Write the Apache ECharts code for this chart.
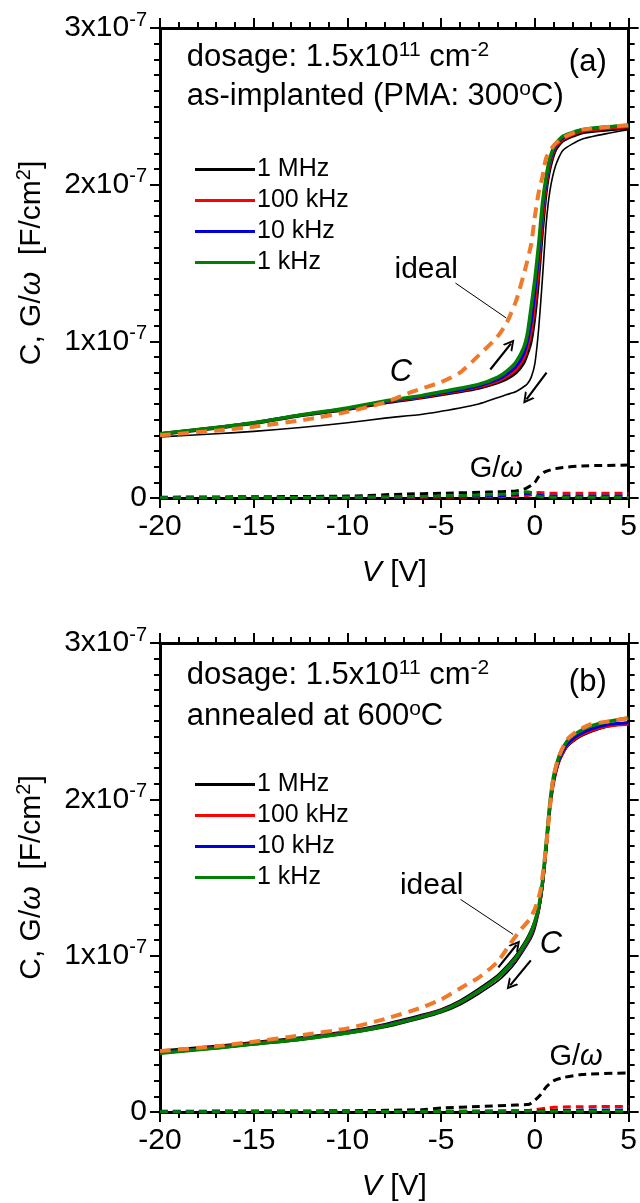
<!DOCTYPE html>
<html>
<head>
<meta charset="utf-8">
<script src="https://cdn.jsdelivr.net/npm/echarts@6.0.0/dist/echarts.min.js"></script>
<style>
  html, body { margin: 0; padding: 0; background: #fff; }
  #chart { width: 640px; height: 1203px; }
</style>
</head>
<body>
<div id="chart"></div>
<script>
// capacitance values in units of 1e-7 F/cm2, voltages in V

// ---- panel (a): as-implanted ----
const vA = [-20, -17, -15, -12.5, -10, -8, -6, -4, -3, -2, -1.5, -1, -0.6, -0.4, -0.2, 0, 0.2, 0.4, 0.6, 0.8, 1.1, 1.5, 2.5, 4, 5];
const cA_1M_rev = [0.39, 0.41, 0.425, 0.45, 0.48, 0.51, 0.535, 0.575, 0.60, 0.64, 0.66, 0.68, 0.71, 0.73, 0.77, 0.86, 1.08, 1.40, 1.75, 1.96, 2.12, 2.22, 2.29, 2.33, 2.35];
const cA_1M = [0.405, 0.445, 0.475, 0.525, 0.565, 0.607, 0.64, 0.678, 0.70, 0.735, 0.76, 0.80, 0.86, 0.92, 1.00, 1.16, 1.40, 1.70, 1.95, 2.10, 2.22, 2.28, 2.33, 2.35, 2.36];
const cA_100k = [0.41, 0.45, 0.48, 0.53, 0.57, 0.612, 0.645, 0.685, 0.708, 0.745, 0.775, 0.82, 0.89, 0.96, 1.06, 1.24, 1.48, 1.77, 1.99, 2.13, 2.24, 2.29, 2.34, 2.36, 2.37];
const cA_10k = [0.41, 0.45, 0.48, 0.53, 0.572, 0.615, 0.65, 0.69, 0.715, 0.755, 0.79, 0.84, 0.92, 1.00, 1.12, 1.32, 1.55, 1.83, 2.02, 2.15, 2.25, 2.30, 2.35, 2.37, 2.38];
const cA_1k = [0.41, 0.45, 0.48, 0.53, 0.575, 0.62, 0.655, 0.70, 0.725, 0.77, 0.81, 0.87, 0.96, 1.05, 1.22, 1.40, 1.62, 1.88, 2.05, 2.17, 2.26, 2.31, 2.35, 2.37, 2.38];

const vIdealA = [-20, -17, -15, -12, -10, -8, -6.5, -5, -4, -3, -2, -1.5, -1, -0.5, -0.2, 0, 0.2, 0.4, 0.6, 1, 1.5, 2.5, 4, 5];
const cIdealA = [0.40, 0.43, 0.455, 0.505, 0.55, 0.61, 0.68, 0.74, 0.80, 0.91, 1.03, 1.12, 1.26, 1.47, 1.62, 1.80, 1.95, 2.05, 2.17, 2.25, 2.30, 2.35, 2.37, 2.38];

const vGA = [-20, -15, -10, -7, -5, -2.5, -1, -0.5, -0.2, 0, 0.2, 0.5, 1, 1.5, 2.5, 5];
const gA_1M = [0.005, 0.008, 0.012, 0.025, 0.03, 0.038, 0.045, 0.06, 0.08, 0.10, 0.135, 0.165, 0.185, 0.195, 0.205, 0.21];
const gA_100k = [0.002, 0.003, 0.004, 0.005, 0.006, 0.008, 0.01, 0.015, 0.02, 0.03, 0.035, 0.033, 0.03, 0.03, 0.03, 0.03];
const gA_10k = [0.002, 0.003, 0.005, 0.007, 0.009, 0.014, 0.02, 0.028, 0.03, 0.025, 0.018, 0.014, 0.012, 0.012, 0.012, 0.012];
const gA_1k = [0.002, 0.003, 0.005, 0.008, 0.012, 0.02, 0.03, 0.04, 0.035, 0.02, 0.01, 0.007, 0.005, 0.005, 0.005, 0.005];

// ---- panel (b): annealed at 600 C ----
const vB = [-20, -17, -15, -12.5, -10, -8, -6, -5, -4, -3, -2, -1.5, -1, -0.5, -0.2, 0, 0.2, 0.4, 0.6, 0.8, 1.0, 1.3, 1.7, 2.3, 3, 4, 5];
const cB_1M_rev = [0.38, 0.405, 0.43, 0.46, 0.50, 0.54, 0.60, 0.635, 0.685, 0.755, 0.835, 0.89, 0.96, 1.05, 1.11, 1.17, 1.27, 1.42, 1.65, 1.92, 2.10, 2.24, 2.33, 2.39, 2.43, 2.47, 2.49];
const cB_1M = [0.39, 0.42, 0.445, 0.475, 0.515, 0.56, 0.62, 0.655, 0.71, 0.785, 0.87, 0.93, 1.00, 1.09, 1.16, 1.22, 1.30, 1.45, 1.68, 1.94, 2.11, 2.25, 2.34, 2.40, 2.44, 2.47, 2.49];
const cB_100k = [0.38, 0.415, 0.44, 0.47, 0.51, 0.555, 0.615, 0.65, 0.702, 0.776, 0.858, 0.913, 0.982, 1.065, 1.135, 1.20, 1.29, 1.45, 1.69, 1.95, 2.12, 2.25, 2.34, 2.40, 2.44, 2.47, 2.48];
const cB_10k = [0.378, 0.412, 0.437, 0.468, 0.508, 0.553, 0.612, 0.648, 0.70, 0.775, 0.858, 0.915, 0.985, 1.07, 1.14, 1.21, 1.30, 1.46, 1.70, 1.96, 2.13, 2.26, 2.35, 2.41, 2.45, 2.48, 2.49];
const cB_1k = [0.375, 0.41, 0.435, 0.465, 0.505, 0.55, 0.61, 0.645, 0.70, 0.775, 0.86, 0.92, 0.99, 1.08, 1.15, 1.22, 1.31, 1.47, 1.72, 1.98, 2.15, 2.28, 2.37, 2.43, 2.47, 2.50, 2.52];

const vIdealB = [-20, -17, -15, -12.5, -10, -8, -6, -5, -4, -3, -2, -1.3, -0.8, -0.3, 0, 0.3, 0.6, 0.8, 1.0, 1.3, 1.7, 2.3, 3, 4, 5];
const cIdealB = [0.39, 0.42, 0.45, 0.49, 0.535, 0.595, 0.67, 0.72, 0.79, 0.86, 0.96, 1.08, 1.16, 1.23, 1.30, 1.42, 1.70, 1.95, 2.15, 2.28, 2.38, 2.44, 2.48, 2.50, 2.52];

const vGB = [-20, -10, -6, -5, -3, -1, -0.3, 0, 0.3, 0.6, 1, 1.5, 2.5, 5];
const gB_1M = [0.005, 0.008, 0.015, 0.025, 0.035, 0.045, 0.05, 0.075, 0.11, 0.16, 0.20, 0.22, 0.24, 0.25];
const gB_100k = [0.002, 0.003, 0.004, 0.004, 0.005, 0.008, 0.01, 0.015, 0.02, 0.025, 0.03, 0.032, 0.034, 0.035];
const gB_10k = [0.002, 0.003, 0.004, 0.004, 0.005, 0.006, 0.008, 0.008, 0.009, 0.01, 0.01, 0.011, 0.012, 0.012];
const gB_1k = [0.002, 0.003, 0.003, 0.003, 0.004, 0.005, 0.006, 0.006, 0.006, 0.005, 0.005, 0.005, 0.005, 0.005];

const freqNames = ['1 MHz', '100 kHz', '10 kHz', '1 kHz'];
const yTicks = [0, 1, 2, 3];

const FONT = '"Liberation Sans", Arial, Helvetica, sans-serif';
const colors = { '1 MHz': '#000000', '100 kHz': '#ff0000', '10 kHz': '#0000dd', '1 kHz': '#008000', ideal: '#f07a2a' };
// open arrow head, tip pointing up (rotated along the line by echarts)
const ARROW = 'path://M5,0 L10,10 L8.2,10 L5,3.6 L1.8,10 L0,10 Z';

const chart = echarts.init(document.getElementById('chart'));

function pairs(xs, ys) {
  return xs.map((x, i) => [x, ys[i]]);
}

function curve(gi, name, xs, ys, opts) {
  opts = opts || {};
  return {
    type: 'line', name: name, xAxisIndex: gi * 2, yAxisIndex: gi * 2,
    data: pairs(xs, ys), symbol: 'none', smooth: 0.2,
    color: opts.color || colors[name],
    lineStyle: { width: opts.width || 3, type: opts.dash || 'solid', color: opts.color || colors[name], join: 'round', cap: 'butt' },
    z: opts.z || 2, silent: true, markLine: opts.markLine
  };
}

function xAxes(gi) {
  const base = {
    gridIndex: gi, type: 'value', min: -20, max: 5, interval: 5,
    axisLine: { show: true, onZero: false, lineStyle: { color: '#000', width: 3 } },
    axisTick: { show: true, inside: false, length: 10, lineStyle: { color: '#000', width: 2 } },
    minorTick: { show: true, splitNumber: 5, length: 6, lineStyle: { color: '#000', width: 2 } },
    splitLine: { show: false }
  };
  return [
    Object.assign({}, base, {
      position: 'bottom',
      axisLabel: { show: true, margin: 14, fontSize: 30, fontFamily: FONT, color: '#000' },
      name: '{i|V}{n| [V]}', nameLocation: 'middle', nameGap: 60,
      nameTextStyle: {
        rich: {
          i: { fontSize: 30, fontStyle: 'italic', fontFamily: FONT, color: '#000' },
          n: { fontSize: 30, fontFamily: FONT, color: '#000' }
        }
      }
    }),
    Object.assign({}, base, { position: 'top', axisLabel: { show: false } })
  ];
}

function yAxes(gi) {
  const base = {
    gridIndex: gi, type: 'value', min: 0, max: 3, interval: 1,
    axisLine: { show: true, onZero: false, lineStyle: { color: '#000', width: 3 } },
    axisTick: { show: true, inside: false, length: 10, lineStyle: { color: '#000', width: 2 } },
    minorTick: { show: true, splitNumber: 10, length: 6, lineStyle: { color: '#000', width: 2 } },
    splitLine: { show: false }
  };
  return [
    Object.assign({}, base, {
      position: 'left',
      axisLabel: {
        show: true, margin: 13,
        formatter: v => v === yTicks[0] ? '{m|0}' : '{m|' + v + 'x10}{s|-7}',
        rich: {
          m: { fontSize: 30, lineHeight: 36, fontFamily: FONT, color: '#000' },
          s: { fontSize: 20, lineHeight: 12, verticalAlign: 'top', fontFamily: FONT, color: '#000' }
        }
      },
      name: '{n|C, G/}{i|ω}{n|  [F/cm}{s|2}{n|]}',
      nameLocation: 'middle', nameGap: 110,
      nameTextStyle: {
        rich: {
          i: { fontSize: 30, lineHeight: 36, fontStyle: 'italic', fontFamily: FONT, color: '#000' },
          n: { fontSize: 30, lineHeight: 36, fontFamily: FONT, color: '#000' },
          s: { fontSize: 20, lineHeight: 12, verticalAlign: 'top', fontFamily: FONT, color: '#000' }
        }
      }
    }),
    Object.assign({}, base, { position: 'right', axisLabel: { show: false } })
  ];
}

function seg(p, q, arrow) {
  return [
    { coord: p, symbol: 'none', lineStyle: { color: '#000', width: arrow ? 2.2 : 1, type: 'solid' } },
    { coord: q, symbol: arrow ? ARROW : 'none', symbolSize: [12, 11], itemStyle: { color: '#000' } }
  ];
}

// leader lines and sweep arrows, in data coordinates
const marksA = [
  seg([-4.24, 1.372], [-1.53, 1.149], false),
  seg([-2.38, 0.82], [-1.28, 0.985], true),
  seg([0.62, 0.80], [-0.45, 0.63], true)
];
const marksB = [
  seg([-3.97, 1.36], [-1.16, 1.136], false),
  seg([-1.95, 0.925], [-0.98, 1.07], true),
  seg([-0.22, 0.97], [-1.32, 0.81], true)
];

function markLine(data) {
  return { silent: true, symbol: ['none', 'none'], label: { show: false }, animation: false, data: data };
}

function panelSeries(gi, d) {
  return [
    curve(gi, '1 MHz G', d.vG, d.g1M, { color: colors['1 MHz'], dash: [8, 5], width: 3, z: 1 }),
    curve(gi, '100 kHz G', d.vG, d.g100k, { color: colors['100 kHz'], dash: [8, 5], width: 3, z: 1 }),
    curve(gi, '10 kHz G', d.vG, d.g10k, { color: colors['10 kHz'], dash: [8, 5], width: 3, z: 1 }),
    curve(gi, '1 kHz G', d.vG, d.g1k, { color: colors['1 kHz'], dash: [8, 5], width: 3, z: 1 }),
    curve(gi, '1 MHz', d.v, d.c1Mrev, { width: 1.6 }),
    curve(gi, '1 MHz', d.v, d.c1M, { width: 3 }),
    curve(gi, '100 kHz', d.v, d.c100k, { width: 3 }),
    curve(gi, '10 kHz', d.v, d.c10k, { width: 3 }),
    curve(gi, '1 kHz', d.v, d.c1k, { width: 3.5 }),
    curve(gi, 'ideal', d.vI, d.cI, { dash: [11, 7], width: 4, z: 3, markLine: markLine(d.marks) })
  ];
}

function legendAt(top) {
  return {
    data: freqNames, orient: 'vertical', left: 195, top: top, padding: 0,
    itemWidth: 60, itemHeight: 3, itemGap: 6, icon: 'rect', selectedMode: false,
    textStyle: { fontSize: 25, lineHeight: 25, fontFamily: FONT, color: '#000', padding: [0, 0, 0, -3] }
  };
}

const option = {
  animation: false,
  backgroundColor: '#fff',
  grid: [
    { left: 160, top: 28, width: 471, height: 470 },
    { left: 160, top: 643, width: 471, height: 470 }
  ],
  xAxis: xAxes(0).concat(xAxes(1)),
  yAxis: yAxes(0).concat(yAxes(1)),
  legend: [legendAt(157), legendAt(772)],
  series: panelSeries(0, {
    v: vA, c1Mrev: cA_1M_rev, c1M: cA_1M, c100k: cA_100k, c10k: cA_10k, c1k: cA_1k,
    vI: vIdealA, cI: cIdealA, vG: vGA, g1M: gA_1M, g100k: gA_100k, g10k: gA_10k, g1k: gA_1k, marks: marksA
  }).concat(panelSeries(1, {
    v: vB, c1Mrev: cB_1M_rev, c1M: cB_1M, c100k: cB_100k, c10k: cB_10k, c1k: cB_1k,
    vI: vIdealB, cI: cIdealB, vG: vGB, g1M: gB_1M, g100k: gB_100k, g10k: gB_10k, g1k: gB_1k, marks: marksB
  }))
};

chart.setOption(option);

// annotation texts, anchored in data coordinates of each panel
const supStyle = { fontSize: 21, lineHeight: 12, verticalAlign: 'top', fontFamily: FONT, fill: '#000' };
const labelsA = [
  { at: [-18.57, 2.81], text: 'dosage: 1.5x10{s|11} cm{s|-2}', size: 31, align: 'left' },
  { at: [-18.57, 2.56], text: 'as-implanted (PMA: 300{s|o}C)', size: 31, align: 'left' },
  { at: [2.82, 2.78], text: '(a)', size: 31, align: 'center' },
  { at: [-5.8, 1.46], text: 'ideal', size: 30, align: 'center' },
  { at: [-7.15, 0.80], text: 'C', size: 31, align: 'center', italic: true },
  { at: [-2.06, 0.185], text: 'G/{i|ω}', size: 29, align: 'center' }
];
const labelsB = [
  { at: [-18.57, 2.79], text: 'dosage: 1.5x10{s|11} cm{s|-2}', size: 31, align: 'left' },
  { at: [-18.57, 2.53], text: 'annealed at 600{s|o}C', size: 31, align: 'left' },
  { at: [2.82, 2.75], text: '(b)', size: 31, align: 'center' },
  { at: [-5.51, 1.45], text: 'ideal', size: 30, align: 'center' },
  { at: [0.86, 1.07], text: 'C', size: 31, align: 'center', italic: true },
  { at: [2.19, 0.351], text: 'G/{i|ω}', size: 29, align: 'center' }
];

function textEl(gi, l) {
  const p = chart.convertToPixel({ gridIndex: gi }, l.at);
  return {
    type: 'text', x: p[0], y: p[1], silent: true, z: 10,
    style: {
      text: l.text, fill: '#000', fontSize: l.size, fontFamily: FONT, lineHeight: 36,
      fontStyle: l.italic ? 'italic' : 'normal',
      align: l.align, textAlign: l.align, verticalAlign: 'middle', textVerticalAlign: 'middle',
      rich: {
        s: supStyle,
        i: { fontSize: l.size, lineHeight: 36, fontStyle: 'italic', fontFamily: FONT, fill: '#000' }
      }
    }
  };
}

chart.setOption({
  graphic: labelsA.map(l => textEl(0, l)).concat(labelsB.map(l => textEl(1, l)))
});
</script>
</body>
</html>
